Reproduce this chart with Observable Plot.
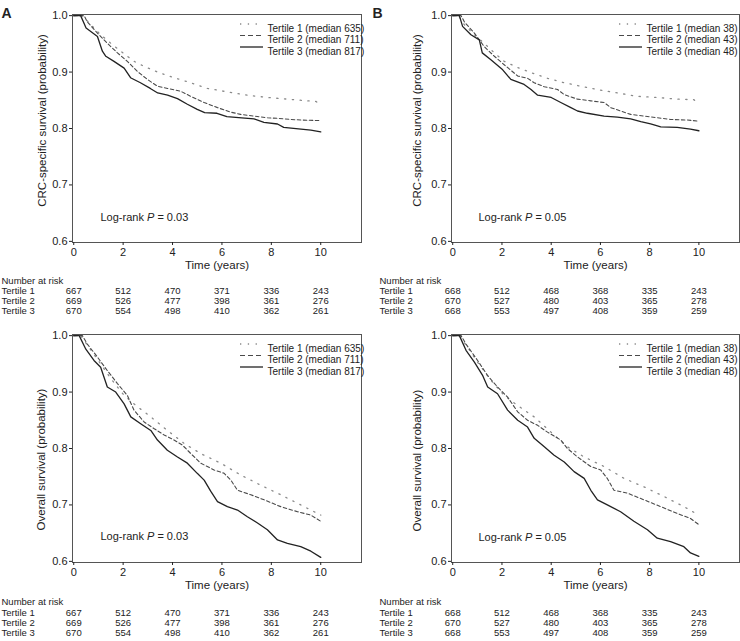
<!DOCTYPE html>
<html><head><meta charset="utf-8">
<script src="https://cdn.jsdelivr.net/npm/d3@7"></script>
<script src="https://cdn.jsdelivr.net/npm/@observablehq/plot@0.6"></script>
<style>
body{margin:0;background:#fff;}
#wrap{position:relative;width:740px;height:641px;overflow:hidden;font-family:"Liberation Sans",Arial,sans-serif;}
.panel{position:absolute;}
</style></head><body><div id="wrap"></div>
<script>
const years = [0, 2, 4, 6, 8, 10];
const yTicks = [0.6, 0.7, 0.8, 0.9, 1.0];
const tertiles = ["Tertile 1", "Tertile 2", "Tertile 3"];
const legendA = ["Tertile 1 (median 635)", "Tertile 2 (median 711)", "Tertile 3 (median 817)"];
const legendB = ["Tertile 1 (median 38)", "Tertile 2 (median 43)", "Tertile 3 (median 48)"];
const riskA = [[667, 512, 470, 371, 336, 243], [669, 526, 477, 398, 361, 276], [670, 554, 498, 410, 362, 261]];
const riskB = [[668, 512, 468, 368, 335, 243], [670, 527, 480, 403, 365, 278], [668, 553, 497, 408, 359, 259]];
const pA = "0.03", pB = "0.05";
const yLabelCRC = "CRC-specific survival (probability)";
const yLabelOS = "Overall survival (probability)";
const xLabel = "Time (years)";
const riskTitle = "Number at risk";

// CRC-specific survival, panel A
const crcA1 = [[0,1],[0.35,1],[0.69,0.984],[1.09,0.966],[1.5,0.951],[1.9,0.937],[2.44,0.919],[2.85,0.91],[3.39,0.9],[4.06,0.89],[4.74,0.881],[5.41,0.871],[6.22,0.865],[7.03,0.859],[7.84,0.855],[8.65,0.852],[9.46,0.849],[9.8,0.848],[10,0.842]];
const crcA2 = [[0,1],[0.42,1],[0.55,0.989],[0.96,0.969],[1.36,0.951],[1.77,0.934],[2.17,0.919],[2.58,0.901],[2.98,0.887],[3.39,0.875],[3.8,0.871],[4.33,0.866],[4.74,0.857],[5.28,0.846],[5.82,0.837],[6.36,0.829],[6.76,0.825],[7.3,0.822],[7.84,0.819],[8.25,0.818],[8.8,0.816],[9.2,0.815],[10,0.814]];
const crcA3 = [[0,1],[0.28,1],[0.5,0.978],[0.96,0.963],[1.16,0.937],[1.3,0.928],[1.63,0.919],[2.04,0.907],[2.3,0.89],[2.7,0.881],[3.1,0.871],[3.4,0.863],[3.8,0.859],[4.2,0.853],[4.6,0.843],[5.0,0.834],[5.3,0.828],[5.8,0.827],[6.2,0.821],[6.8,0.819],[7.3,0.817],[7.7,0.811],[8.25,0.808],[8.5,0.802],[9.2,0.799],[9.6,0.797],[10,0.794]];
// CRC-specific survival, panel B
const crcB1 = [[0,1],[0.23,1],[0.47,0.984],[0.88,0.966],[1.28,0.951],[1.69,0.934],[2.09,0.919],[2.64,0.908],[3.18,0.899],[3.85,0.889],[4.53,0.881],[5.2,0.875],[5.88,0.869],[6.69,0.863],[7.5,0.857],[8.31,0.855],[9.12,0.852],[9.8,0.851],[10,0.843]];
const crcB2 = [[0,1],[0.34,1],[0.47,0.989],[0.88,0.969],[1.28,0.945],[1.69,0.928],[2.09,0.913],[2.64,0.893],[3.04,0.889],[3.31,0.881],[3.72,0.874],[4.26,0.869],[4.53,0.86],[5.07,0.852],[5.61,0.849],[6.15,0.846],[6.42,0.837],[6.82,0.831],[7.23,0.825],[7.77,0.822],[8.31,0.819],[8.85,0.816],[9.53,0.815],[10,0.813]];
const crcB3 = [[0,1],[0.27,1],[0.4,0.981],[0.74,0.966],[1.08,0.957],[1.2,0.934],[1.55,0.922],[2.03,0.904],[2.36,0.887],[2.9,0.878],[3.18,0.869],[3.45,0.859],[4.0,0.855],[4.39,0.846],[4.8,0.837],[5.07,0.831],[5.47,0.827],[6.15,0.822],[6.69,0.82],[7.23,0.817],[7.64,0.812],[8.04,0.808],[8.45,0.803],[9.12,0.802],[9.66,0.799],[10,0.796]];
// Overall survival, panel A
const osA1 = [[0,1],[0.28,1],[0.62,0.979],[1.09,0.95],[1.5,0.924],[2.04,0.894],[2.58,0.874],[3.12,0.856],[3.79,0.832],[4.47,0.809],[5.14,0.791],[5.95,0.774],[6.76,0.753],[7.57,0.735],[8.38,0.718],[9.19,0.7],[10,0.682]];
const osA2 = [[0,1],[0.35,1],[0.55,0.985],[0.96,0.962],[1.36,0.938],[1.77,0.915],[2.17,0.894],[2.44,0.868],[2.85,0.847],[3.26,0.835],[3.66,0.824],[4.06,0.815],[4.4,0.806],[4.74,0.791],[5.14,0.774],[5.68,0.762],[6.09,0.756],[6.36,0.744],[6.63,0.726],[7.17,0.718],[7.71,0.709],[8.38,0.697],[9.06,0.688],[9.6,0.682],[10,0.671]];
const osA3 = [[0,1],[0.22,1],[0.49,0.976],[0.82,0.956],[1.09,0.944],[1.36,0.909],[1.7,0.9],[2.04,0.879],[2.31,0.856],[2.71,0.844],[3.12,0.832],[3.39,0.815],[3.79,0.797],[4.2,0.785],[4.6,0.774],[5.0,0.756],[5.28,0.744],[5.55,0.724],[5.82,0.706],[6.22,0.697],[6.63,0.691],[7.03,0.679],[7.44,0.668],[7.84,0.656],[8.25,0.638],[8.65,0.632],[9.19,0.626],[9.6,0.618],[10,0.607]];
// Overall survival, panel B
const osB1 = [[0,1],[0.27,1],[0.61,0.979],[1.01,0.953],[1.55,0.921],[2.09,0.894],[2.64,0.876],[3.31,0.856],[3.99,0.829],[4.66,0.803],[5.34,0.785],[6.15,0.768],[6.96,0.747],[7.77,0.732],[8.58,0.715],[9.39,0.697],[10,0.682]];
const osB2 = [[0,1],[0.34,1],[0.54,0.985],[1.01,0.956],[1.42,0.929],[1.82,0.909],[2.23,0.891],[2.64,0.865],[3.04,0.85],[3.45,0.841],[3.85,0.829],[4.39,0.815],[4.66,0.8],[5.07,0.785],[5.61,0.768],[6.01,0.762],[6.28,0.747],[6.55,0.726],[7.09,0.721],[7.77,0.709],[8.45,0.697],[9.12,0.685],[9.66,0.676],[10,0.665]];
const osB3 = [[0,1],[0.27,1],[0.54,0.974],[0.88,0.953],[1.22,0.929],[1.42,0.909],[1.82,0.897],[2.23,0.868],[2.64,0.85],[3.04,0.838],[3.31,0.818],[3.72,0.803],[4.12,0.788],[4.53,0.776],[4.93,0.759],[5.34,0.747],[5.61,0.726],[5.88,0.709],[6.28,0.7],[6.82,0.688],[7.36,0.671],[7.91,0.656],[8.31,0.641],[8.85,0.635],[9.39,0.626],[9.66,0.615],[10,0.609]];

const lineStyles = [
  {stroke: "#8a8a8a", dash: "1.3,6.5", width: 1.3},
  {stroke: "#4a4a4a", dash: "3.5,2.5", width: 1.1},
  {stroke: "#222", dash: null, width: 1.3}
];
const FONT = "Liberation Sans, Arial, Helvetica, sans-serif";

function panel(cfg) {
  const ml = cfg.ml, mr = cfg.mr, mt = 14, mb = 79;
  const marks = [
    Plot.frame({stroke: "#555", strokeWidth: 1}),
    Plot.axisX({ticks: years, tickSize: 3, tickPadding: 3, fontSize: 11, label: null}),
    Plot.axisY({ticks: yTicks, tickFormat: ".1f", tickSize: 3, tickPadding: 2, fontSize: 11, label: null}),
    ...cfg.curves.map((c, i) => Plot.line(c, {x: d => d[0], y: d => d[1], stroke: lineStyles[i].stroke, strokeDasharray: lineStyles[i].dash, strokeWidth: lineStyles[i].width})),
    Plot.text([cfg.yLabel], {frameAnchor: "left", rotate: -90, dx: cfg.ylDx, dy: cfg.ylDy, textAnchor: "middle", lineAnchor: "middle", fontSize: 11.5}),
    Plot.text([xLabel], {frameAnchor: "bottom", dy: 26, textAnchor: "middle", fontSize: 11.5}),
    Plot.text([`Log-rank P = ${cfg.p}`], {frameAnchor: "bottom-left", dx: cfg.lrDx, dy: cfg.lrDy, textAnchor: "start", fontSize: 11}),
    ...cfg.legend.map((lab, i) => Plot.text([lab], {frameAnchor: "top-left", dx: 195, dy: 10 + 11.5 * i, textAnchor: "start", fontSize: 10})),
    (index, scales, values, dims) => {
      const g = d3.create("svg:g");
      lineStyles.forEach((s, i) => {
        const y = dims.marginTop + 10 + 11.5 * i;
        g.append("line").attr("x1", dims.marginLeft + 168).attr("x2", dims.marginLeft + 191)
          .attr("y1", y).attr("y2", y).attr("stroke", s.stroke).attr("stroke-width", s.width)
          .attr("stroke-dasharray", i === 1 ? "5,3" : s.dash);
      });
      return g.node();
    },
    Plot.text([riskTitle], {frameAnchor: "bottom-left", dx: cfg.tDx, dy: cfg.rows[0], textAnchor: "start", fontSize: 9.5}),
    ...tertiles.map((t, i) => Plot.text([t], {frameAnchor: "bottom-left", dx: cfg.tDx, dy: cfg.rows[i + 1], textAnchor: "start", fontSize: 9.5})),
    ...cfg.risk.map((row, i) => Plot.text(years.map((t, j) => ({t, n: row[j]})), {x: "t", text: "n", frameAnchor: "bottom", dy: cfg.rows[i + 1], textAnchor: "middle", fontSize: 9.5}))
  ];
  if (cfg.letter) marks.push(Plot.text([cfg.letter], {frameAnchor: "top-left", dx: 1 - ml + cfg.letterDx, dy: 8 - mt, textAnchor: "start", fontSize: 14, fontWeight: "bold"}));
  const chart = Plot.plot({
    width: 370, height: 321,
    marginLeft: ml, marginRight: mr, marginTop: mt, marginBottom: mb,
    x: {domain: [-0.05, 11.65]},
    y: {domain: [0.598, 1.002]},
    style: {fontFamily: FONT, fontSize: "11px", color: "#222", background: "transparent", overflow: "visible"},
    marks
  });
  chart.querySelectorAll("text").forEach(t => {
    if (t.textContent.startsWith("Log-rank P")) {
      const rest = t.textContent.replace("Log-rank P", "");
      t.textContent = "";
      const ns = "http://www.w3.org/2000/svg";
      const a = document.createElementNS(ns, "tspan"); a.textContent = "Log-rank ";
      const b = document.createElementNS(ns, "tspan"); b.textContent = "P"; b.setAttribute("font-style", "italic");
      const c = document.createElementNS(ns, "tspan"); c.textContent = rest;
      t.append(a, b, c);
    }
  });
  const div = document.createElement("div");
  div.className = "panel";
  div.style.left = cfg.left + "px";
  div.style.top = cfg.top + "px";
  div.appendChild(chart);
  document.getElementById("wrap").appendChild(div);
}

panel({left: 0, top: 0, ml: 72, mr: 9, curves: [crcA1, crcA2, crcA3], yLabel: yLabelCRC, ylDx: -30, ylDy: -8, p: pA, lrDx: 28, lrDy: -22, legend: legendA, risk: riskA, rows: [41, 51, 61, 71], tDx: -71, letter: "A", letterDx: 0});
panel({left: 370, top: 0, ml: 81, mr: 1, curves: [crcB1, crcB2, crcB3], yLabel: yLabelCRC, ylDx: -34, ylDy: -8, p: pB, lrDx: 27, lrDy: -22, legend: legendB, risk: riskB, rows: [41, 51, 61, 71], tDx: -72, letter: "B", letterDx: 1});
panel({left: 0, top: 320, ml: 72, mr: 9, curves: [osA1, osA2, osA3], yLabel: yLabelOS, ylDx: -31, ylDy: 11, p: pA, lrDx: 28, lrDy: -23, legend: legendA, risk: riskA, rows: [42, 53, 63, 73], tDx: -71});
panel({left: 370, top: 320, ml: 81, mr: 1, curves: [osB1, osB2, osB3], yLabel: yLabelOS, ylDx: -34, ylDy: 12, p: pB, lrDx: 27, lrDy: -22, legend: legendB, risk: riskB, rows: [42, 53, 63, 73], tDx: -72});
</script></body></html>
